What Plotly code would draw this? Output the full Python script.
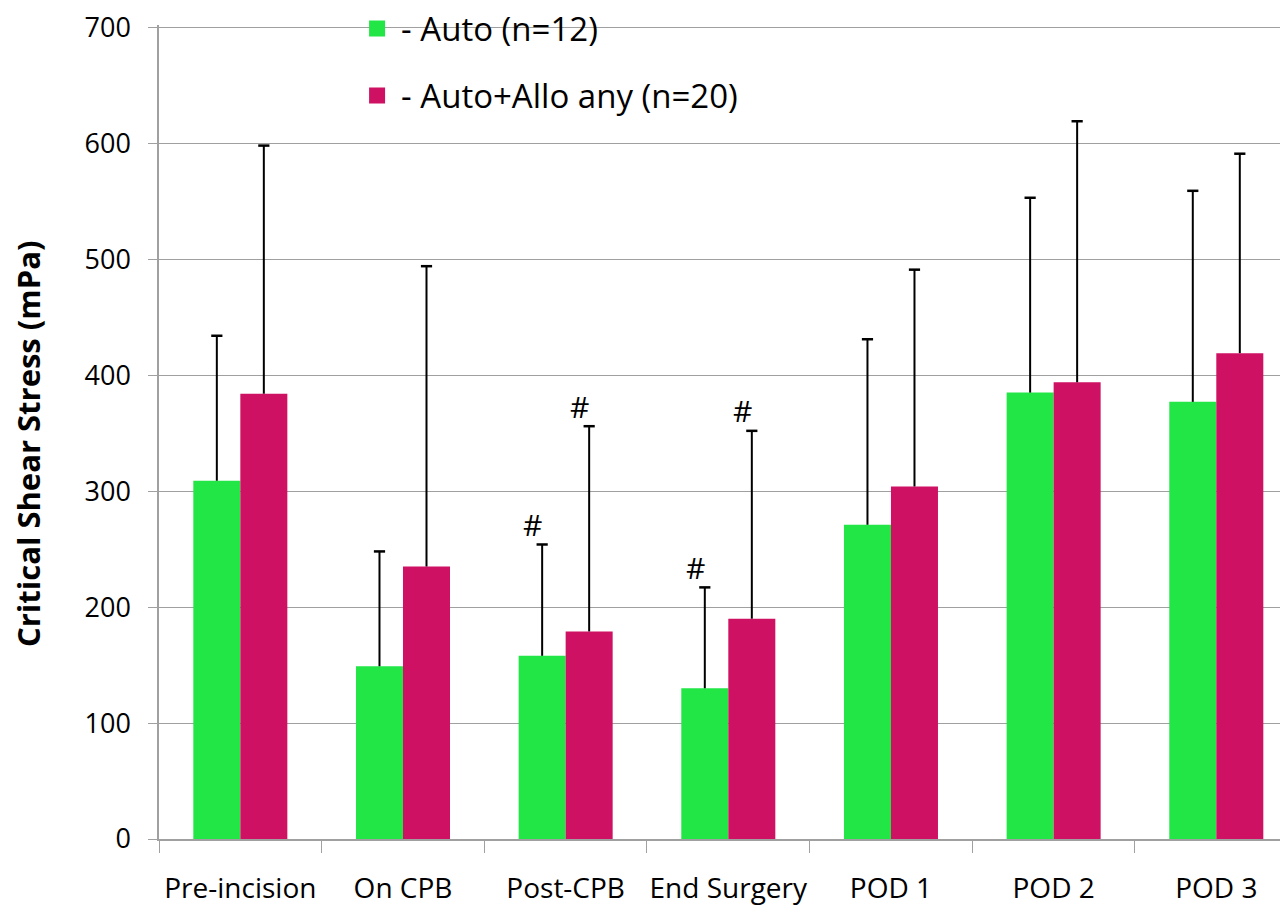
import plotly.graph_objects as go

categories = ["Pre-incision", "On CPB", "Post-CPB", "End Surgery", "POD 1", "POD 2", "POD 3"]
auto_mean = [309, 149, 158, 130, 271, 385, 377]
auto_sd = [125, 99, 96, 87, 160, 168, 182]
allo_mean = [384, 235, 179, 190, 304, 394, 419]
allo_sd = [214, 259, 177, 162, 187, 225, 172]
auto_sig = [False, False, True, True, False, False, False]
allo_sig = [False, False, True, True, False, False, False]
y_ticks = [0, 100, 200, 300, 400, 500, 600, 700]
y_title = "Critical Shear Stress (mPa)"

green = "#22e646"
magenta = "#cf1163"
grid = "#a0a0a0"
font_family = "Open Sans, Liberation Sans, sans-serif"

auto_top = [m + s for m, s in zip(auto_mean, auto_sd)]
allo_top = [m + s for m, s in zip(allo_mean, allo_sd)]

fig = go.Figure()
fig.add_trace(go.Bar(x=categories, y=auto_mean, name="- Auto (n=12)", offsetgroup="a",
                     marker=dict(color=green, line=dict(width=0)), showlegend=False))
fig.add_trace(go.Bar(x=categories, y=allo_mean, name="- Auto+Allo any (n=20)", offsetgroup="b",
                     marker=dict(color=magenta, line=dict(width=0)), showlegend=False))
# upper error bars (whisker + top cap only)
for tops, sds, grp in [(auto_top, auto_sd, "a"), (allo_top, allo_sd, "b")]:
    fig.add_trace(go.Scatter(
        x=categories, y=tops, mode="markers", offsetgroup=grp,
        marker=dict(symbol="line-ew", size=8, line=dict(width=2.5, color="black"), color="black"),
        error_y=dict(type="data", symmetric=False, array=[0]*7, arrayminus=sds,
                     color="black", thickness=2, width=0),
        showlegend=False, hoverinfo="skip",
    ))
# legend entries
fig.add_trace(go.Scatter(x=[None], y=[None], mode="markers", name="- Auto (n=12)",
                         marker=dict(symbol="square", size=19, color=green), legendgroup="a"))
fig.add_trace(go.Scatter(x=[None], y=[None], mode="markers", name="- Auto+Allo any (n=20)",
                         marker=dict(symbol="square", size=19, color=magenta), legendgroup="b"))

annotations = []
for i, c in enumerate(categories):
    if auto_sig[i]:
        annotations.append(dict(x=c, y=auto_top[i], text="#", showarrow=False,
                                xshift=-33, yshift=20, font=dict(size=30, color="black", family=font_family)))
    if allo_sig[i]:
        annotations.append(dict(x=c, y=allo_top[i], text="#", showarrow=False,
                                xshift=14, yshift=20, font=dict(size=30, color="black", family=font_family)))
annotations.append(dict(xref="paper", yref="paper", x=-0.1152, y=0.4853, text="<b>" + y_title + "</b>",
                        textangle=-90, showarrow=False, xanchor="center", yanchor="middle",
                        font=dict(size=31, color="black", family=font_family)))

fig.update_layout(
    width=1288, height=906,
    margin=dict(l=151, r=0, t=17, b=75, autoexpand=False),
    paper_bgcolor="white", plot_bgcolor="white",
    barmode="group", bargap=0.422, bargroupgap=0,
    scattermode="group", scattergap=0.422,
    font=dict(family=font_family, color="black"),
    annotations=annotations,
    shapes=[dict(type="rect", xref="paper", yref="paper", x0=0.159, x1=0.630, y0=0.9945, y1=0.9998,
                 fillcolor="white", line=dict(width=0), layer="between")],
    legend=dict(x=0.1707, y=1.03, xanchor="left", yanchor="top", bgcolor="rgba(0,0,0,0)",
                font=dict(size=33, family=font_family, color="black"),
                itemsizing="trace", tracegroupgap=21, traceorder="grouped",
                itemwidth=38, borderwidth=0),
    xaxis=dict(range=[-0.5, 6.49], tickson="boundaries", ticks="outside", ticklen=12,
               tickcolor=grid, showline=True, linecolor=grid, linewidth=1.5,
               tickfont=dict(size=28, family=font_family), showgrid=False, tickangle=0,
               ticklabelstandoff=24, automargin=False),
    yaxis=dict(range=[0, 702], tickvals=y_ticks, ticks="outside", ticklen=9,
               tickcolor=grid, showline=True, linecolor=grid, linewidth=1.5,
               showgrid=True, gridcolor=grid, gridwidth=1.2, zeroline=False,
               tickfont=dict(size=27, family=font_family), ticklabelstandoff=12,
               ticklabeloverflow="allow", automargin=False),
)

fig.write_html("out.html")
